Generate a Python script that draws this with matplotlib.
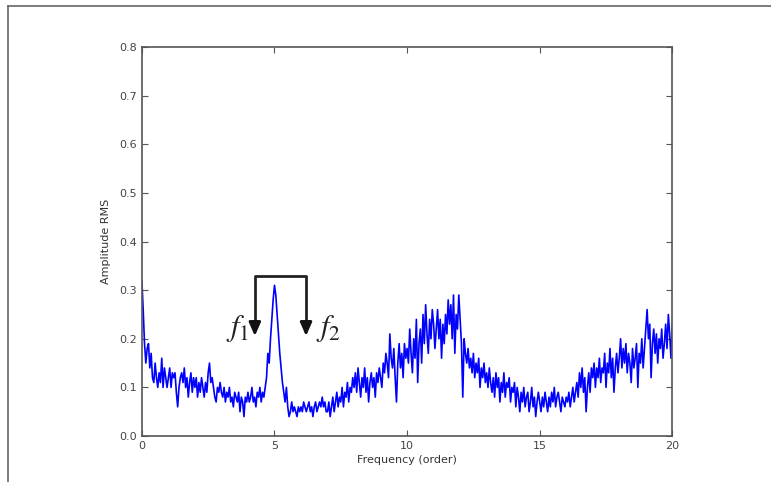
import matplotlib.pyplot as plt
from matplotlib.lines import Line2D
import numpy as np

# amplitude values, one row per order (step 0.05)
amp_rows = [
    [0.32, 0.26, 0.19, 0.15, 0.18, 0.19, 0.14, 0.17, 0.12, 0.11, 0.15, 0.12, 0.10, 0.13, 0.11, 0.16, 0.10, 0.14, 0.12, 0.10],
    [0.12, 0.14, 0.10, 0.13, 0.12, 0.13, 0.09, 0.06, 0.10, 0.12, 0.13, 0.11, 0.14, 0.10, 0.12, 0.08, 0.11, 0.13, 0.09, 0.12],
    [0.10, 0.12, 0.08, 0.11, 0.09, 0.12, 0.10, 0.08, 0.11, 0.09, 0.13, 0.15, 0.11, 0.12, 0.10, 0.08, 0.07, 0.10, 0.09, 0.11],
    [0.09, 0.08, 0.10, 0.07, 0.09, 0.08, 0.10, 0.07, 0.08, 0.06, 0.09, 0.08, 0.07, 0.09, 0.05, 0.08, 0.07, 0.04, 0.08, 0.07],
    [0.09, 0.07, 0.08, 0.10, 0.07, 0.08, 0.06, 0.09, 0.08, 0.10, 0.07, 0.09, 0.08, 0.10, 0.12, 0.17, 0.15, 0.20, 0.24, 0.28],
    [0.31, 0.29, 0.25, 0.21, 0.17, 0.14, 0.11, 0.09, 0.07, 0.10, 0.06, 0.04, 0.05, 0.07, 0.05, 0.06, 0.05, 0.04, 0.06, 0.05],
    [0.06, 0.05, 0.07, 0.06, 0.05, 0.06, 0.07, 0.05, 0.06, 0.04, 0.06, 0.07, 0.05, 0.06, 0.07, 0.06, 0.08, 0.06, 0.07, 0.05],
    [0.05, 0.07, 0.04, 0.06, 0.08, 0.05, 0.07, 0.09, 0.06, 0.08, 0.07, 0.10, 0.06, 0.09, 0.08, 0.11, 0.07, 0.10, 0.09, 0.12],
    [0.10, 0.13, 0.09, 0.14, 0.11, 0.08, 0.12, 0.10, 0.14, 0.09, 0.12, 0.07, 0.11, 0.13, 0.10, 0.12, 0.08, 0.13, 0.11, 0.14],
    [0.12, 0.10, 0.15, 0.13, 0.17, 0.15, 0.12, 0.21, 0.16, 0.14, 0.18, 0.12, 0.07, 0.15, 0.19, 0.14, 0.17, 0.12, 0.19, 0.16],
    [0.18, 0.15, 0.22, 0.17, 0.13, 0.20, 0.16, 0.24, 0.11, 0.19, 0.22, 0.15, 0.25, 0.19, 0.27, 0.21, 0.17, 0.24, 0.20, 0.26],
    [0.23, 0.18, 0.22, 0.26, 0.20, 0.24, 0.16, 0.23, 0.19, 0.25, 0.21, 0.28, 0.23, 0.27, 0.20, 0.29, 0.17, 0.25, 0.22, 0.29],
    [0.24, 0.19, 0.08, 0.20, 0.17, 0.15, 0.18, 0.14, 0.16, 0.13, 0.17, 0.12, 0.15, 0.13, 0.16, 0.10, 0.14, 0.12, 0.15, 0.11],
    [0.13, 0.10, 0.14, 0.11, 0.09, 0.12, 0.08, 0.13, 0.10, 0.12, 0.07, 0.11, 0.09, 0.13, 0.08, 0.11, 0.10, 0.12, 0.07, 0.10],
    [0.09, 0.11, 0.06, 0.10, 0.08, 0.05, 0.09, 0.07, 0.10, 0.06, 0.08, 0.09, 0.05, 0.07, 0.10, 0.06, 0.08, 0.04, 0.07, 0.09],
    [0.07, 0.05, 0.08, 0.06, 0.09, 0.07, 0.05, 0.08, 0.06, 0.09, 0.07, 0.10, 0.06, 0.08, 0.09, 0.07, 0.05, 0.08, 0.07, 0.06],
    [0.08, 0.07, 0.09, 0.06, 0.08, 0.10, 0.07, 0.09, 0.11, 0.08, 0.13, 0.10, 0.14, 0.09, 0.12, 0.05, 0.10, 0.13, 0.09, 0.14],
    [0.12, 0.15, 0.10, 0.14, 0.12, 0.16, 0.11, 0.14, 0.13, 0.17, 0.10, 0.15, 0.13, 0.18, 0.12, 0.16, 0.09, 0.14, 0.17, 0.13],
    [0.16, 0.20, 0.14, 0.18, 0.15, 0.19, 0.13, 0.17, 0.15, 0.11, 0.18, 0.14, 0.16, 0.19, 0.10, 0.17, 0.15, 0.20, 0.14, 0.18],
    [0.22, 0.26, 0.20, 0.23, 0.12, 0.19, 0.22, 0.17, 0.21, 0.15, 0.20, 0.18, 0.22, 0.16, 0.19, 0.23, 0.18, 0.25, 0.21, 0.16],
]
amp_last = 0.23

amplitude = [v for row in amp_rows for v in row] + [amp_last]
frequency = np.linspace(0, 20, len(amplitude))

x_ticks = [0, 5, 10, 15, 20]
y_ticks = [0.0, 0.1, 0.2, 0.3, 0.4, 0.5, 0.6, 0.7, 0.8]

# the two marked frequencies and the bracket height
f_marks = [4.26, 6.19]
f_labels = ["$f_1$", "$f_2$"]
bracket_top = 0.33
arrow_tip = 0.20

plt.rcParams['mathtext.fontset'] = 'stix'

fig = plt.figure(figsize=(7.71, 4.82), dpi=100)
ax = fig.add_axes([0.184, 0.0954, 0.688, 0.807])

ax.plot(frequency, amplitude, color="#0000ff", lw=1.2)

ax.set_xlim(0, 20)
ax.set_ylim(0, 0.8)
ax.set_xticks(x_ticks)
ax.set_yticks(y_ticks)
ax.set_xticklabels([str(t) for t in x_ticks])
ax.set_yticklabels(["%.1f" % t for t in y_ticks])
ax.tick_params(direction="in", top=True, right=True, length=4, width=0.8,
               colors="#555555", labelsize=8, labelcolor="#444444")
for s in ax.spines.values():
    s.set_color("#555555")
    s.set_linewidth(1.2)
ax.set_xlabel("Frequency (order)", fontsize=8, color="#333333", labelpad=3)
ax.set_ylabel("Amplitude RMS", fontsize=8, color="#333333", labelpad=6)

# bracket with two arrows
ax.plot([f_marks[0], f_marks[0], f_marks[1], f_marks[1]],
        [arrow_tip + 0.02, bracket_top, bracket_top, arrow_tip + 0.02],
        color="#222222", lw=2, solid_capstyle="butt")
for fx in f_marks:
    ax.annotate("", xy=(fx, arrow_tip), xytext=(fx, arrow_tip + 0.03),
                arrowprops=dict(arrowstyle="-|>,head_width=0.35,head_length=0.8",
                                color="#111111", lw=2))
ax.text(f_marks[0] - 0.65, 0.222, f_labels[0], fontsize=22, ha="center", va="center", color="#222222")
ax.text(f_marks[1] + 0.85, 0.222, f_labels[1], fontsize=22, ha="center", va="center", color="#222222")

# thin frame around the picture (top and left edges visible)
fig.add_artist(Line2D([8 / 771, 1.0], [1 - 6 / 482, 1 - 6 / 482], color="#666666", lw=1.2))
fig.add_artist(Line2D([8 / 771, 8 / 771], [0.0, 1 - 6 / 482], color="#666666", lw=1.2))

fig.savefig("out.png", dpi=100)
